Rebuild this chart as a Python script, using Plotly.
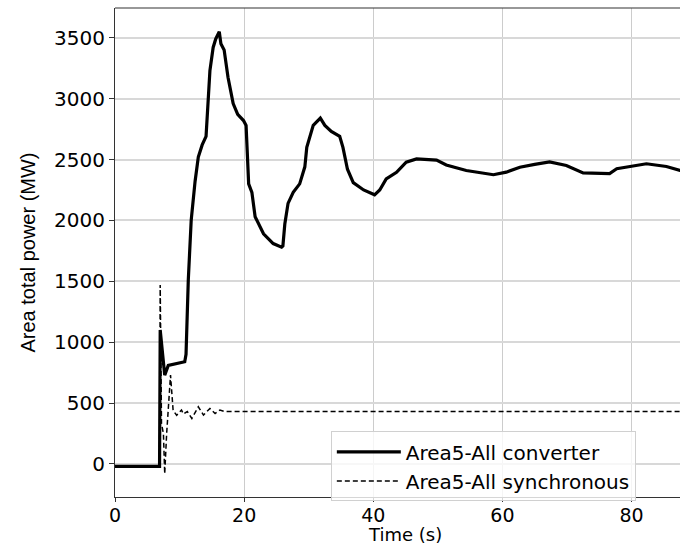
import plotly.graph_objects as go

# converter total
t_conv = [0, 6.9, 7.0, 7.2, 7.7, 8.25, 9.0, 10.0, 10.8, 11.0, 11.35, 11.8, 12.4, 12.9,
          13.5, 14.1, 14.7, 15.2, 15.6, 16.15, 16.4, 16.9, 17.5, 18.3, 19.0, 19.9,
          20.3, 20.7, 21.2, 21.7, 23.0, 24.5, 25.8, 26.0, 26.3, 26.8, 27.6, 28.6,
          29.4, 29.7, 30.7, 31.8, 32.5, 33.5, 34.8, 35.3, 36.0, 36.9, 38.5, 40.2,
          41.0, 42.0, 43.6, 45.1, 46.7, 49.8, 51.3, 54.4, 58.6, 60.6, 62.7, 65.0,
          67.3, 69.9, 72.5, 76.6, 77.7, 80.0, 82.3, 85.4, 87.5, 90.0]
p_conv = [-20, -20, 1100, 990, 730, 810, 820, 830, 840, 900, 1510, 2000, 2320, 2520,
          2620, 2690, 3230, 3420, 3490, 3550, 3450, 3400, 3175, 2960, 2870, 2820,
          2780, 2300, 2230, 2030, 1890, 1810, 1780, 1790, 1970, 2140, 2230, 2300,
          2440, 2600, 2780, 2840, 2780, 2730, 2690, 2600, 2420, 2310, 2250, 2210,
          2250, 2340, 2395, 2478, 2505, 2495, 2455, 2410, 2375, 2396, 2437, 2460,
          2480, 2451, 2390, 2385, 2424, 2445, 2465, 2443, 2410, 2400]

# synchronous total
t_sync = [0, 6.9, 7.0, 7.2, 7.5, 7.7, 8.0, 8.6, 9.0, 9.55, 10.3, 10.6, 11.2, 11.9,
          12.9, 13.7, 14.7, 15.5, 16.25, 17.0, 90.0]
p_sync = [-20, -20, 1470, 330, 250, -80, 250, 730, 440, 400, 443, 410, 430, 374,
          470, 402, 456, 415, 443, 430, 430]

x_ticks = [0, 20, 40, 60, 80]
y_ticks = [0, 500, 1000, 1500, 2000, 2500, 3000, 3500]

fig = go.Figure()
fig.add_trace(go.Scatter(x=t_conv, y=p_conv, mode="lines", name="Area5-All converter",
                         line=dict(color="black", width=3.2)))
fig.add_trace(go.Scatter(x=t_sync, y=p_sync, mode="lines", name="Area5-All synchronous",
                         line=dict(color="black", width=1.5, dash="5px,3px")))

# top spine (right one is off the canvas in the original)
fig.add_shape(type="line", xref="paper", yref="paper", x0=0, x1=1, y0=1, y1=1,
              line=dict(color="#333", width=1.2))

# x title, centred on the full (partly hidden) axis
fig.add_annotation(text="Time (s)", xref="paper", yref="paper", x=0.513, y=0,
                   yshift=-37, yanchor="middle", showarrow=False,
                   font=dict(size=18, family="DejaVu Sans", color="black"))

fig.update_layout(
    width=680, height=545,
    margin=dict(l=115, r=0, t=8, b=48),
    paper_bgcolor="white", plot_bgcolor="white",
    font=dict(family="DejaVu Sans", color="black"),
    showlegend=True,
    legend=dict(x=0.382, y=0.134, xanchor="left", yanchor="top", itemwidth=64,
                bgcolor="rgba(255,255,255,0.8)", bordercolor="#d0d0d0", borderwidth=1,
                tracegroupgap=0, font=dict(size=20, family="DejaVu Sans")),
)
fig.update_xaxes(range=[0, 87.5], tickvals=x_ticks, showgrid=True, gridcolor="#cccccc",
                 gridwidth=1, zeroline=False, showline=True, linecolor="#333", linewidth=1.2,
                 ticks="outside", ticklen=4, tickcolor="#333", tickfont=dict(size=19),
                 ticklabelstandoff=-3)
fig.update_yaxes(range=[-271, 3744], tickvals=y_ticks, showgrid=True, gridcolor="#d8d8d8",
                 gridwidth=1.5, zeroline=False, showline=True, linecolor="#333", linewidth=1.2,
                 ticks="outside", ticklen=5, tickcolor="#333", tickfont=dict(size=20),
                 title=dict(text="Area total power (MW)", standoff=12,
                            font=dict(size=20, family="Liberation Sans")))

fig.write_html("out.html", config={"displayModeBar": False},
               post_script="document.body.style.margin='0';")
